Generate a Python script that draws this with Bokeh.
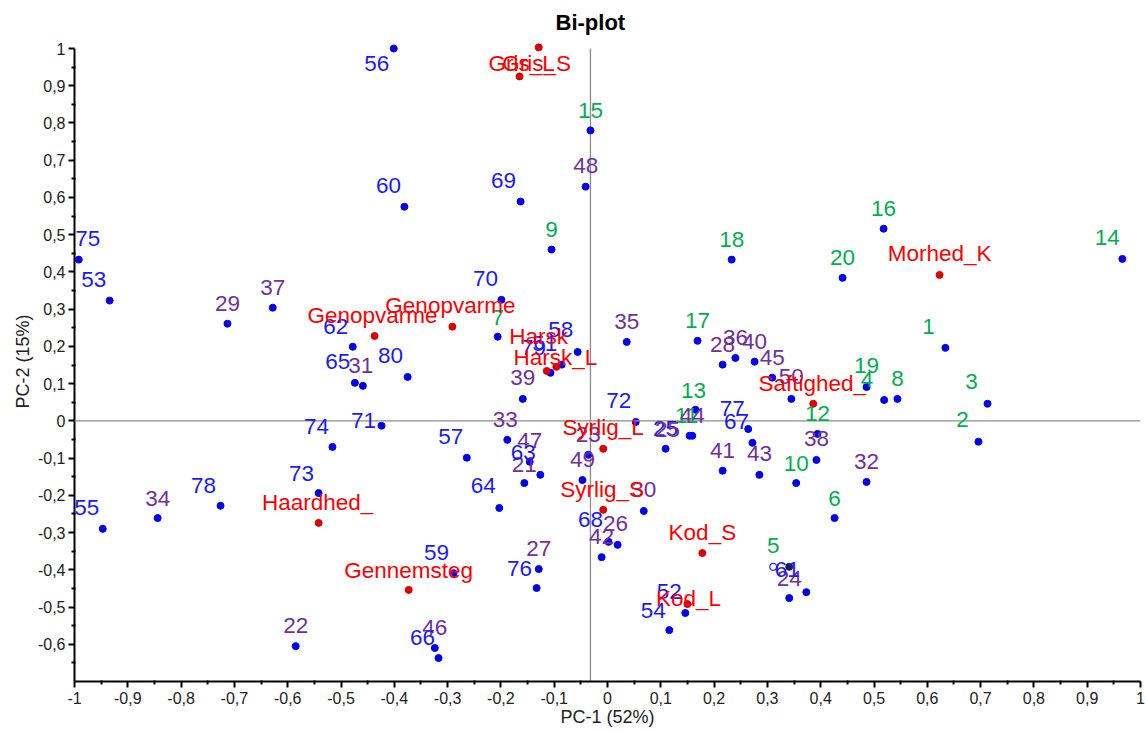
from bokeh.plotting import figure
from bokeh.models import (ColumnDataSource, LabelSet, Span, FixedTicker,
                          CustomJSTickFormatter, Range1d)
from bokeh.core.properties import value
from bokeh.embed import file_html
from bokeh.resources import INLINE

# ---------------- data ----------------
sample_ids = [str(i) for i in range(1, 81)]
pc1_samples = [
    0.634, 0.696, 0.713, 0.519, 0.341, 0.426, -0.206, 0.544, -0.105, 0.354,
    0.154, 0.394, 0.165, 0.966, -0.032, 0.518, 0.169, 0.233, 0.486, 0.441,
    -0.156, -0.585, -0.036, 0.341, 0.109, 0.019, -0.129, 0.216, -0.713, 0.068,
    -0.459, 0.486, -0.188, -0.844, 0.036, 0.240, -0.628, 0.392, -0.159, 0.276,
    0.216, -0.011, 0.285, 0.159, 0.309, -0.324, -0.146, -0.041, -0.047, 0.345,
    -0.086, 0.146, -0.934, 0.116, -0.947, -0.401, -0.264, -0.056, -0.289, -0.381,
    0.373, -0.478, -0.126, -0.203, -0.474, -0.317, 0.272, 0.002, -0.163, -0.199,
    -0.424, 0.053, -0.542, -0.516, -0.992, -0.133, 0.264, -0.726, -0.107, -0.375,
]
pc2_samples = [
    0.196, -0.056, 0.046, 0.056, -0.392, -0.261, 0.226, 0.059, 0.460, -0.167,
    -0.040, -0.035, 0.030, 0.435, 0.780, 0.516, 0.215, 0.433, 0.091, 0.384,
    -0.167, -0.605, -0.091, -0.476, -0.075, -0.333, -0.398, 0.151, 0.261, -0.242,
    0.094, -0.164, -0.051, -0.261, 0.212, 0.169, 0.304, -0.105, 0.059, 0.159,
    -0.134, -0.366, -0.145, -0.040, 0.116, -0.610, -0.110, 0.629, -0.159, 0.059,
    0.151, -0.516, 0.323, -0.562, -0.290, 1.000, -0.099, 0.185, -0.409, 0.575,
    -0.460, 0.199, -0.145, -0.234, 0.102, -0.637, -0.059, -0.325, 0.589, 0.325,
    -0.013, -0.003, -0.194, -0.070, 0.433, -0.449, -0.022, -0.228, 0.129, 0.118,
]
sample_groups = ["g1"] * 20 + ["g2"] * 30 + ["g3"] * 30

variable_names = ["Gris_S", "Gris_L", "Harsk", "Harsk_L", "Haardhed_", "Gennemsteg",
                  "Genopvarme", "Genopvarme", "Morhed_K", "Saftighed_", "Syrlig_L",
                  "Syrlig_S", "Kod_S", "Kod_L"]
pc1_variables = [-0.129, -0.165, -0.114, -0.096, -0.542, -0.373, -0.437, -0.291,
                 0.623, 0.386, -0.008, -0.008, 0.178, 0.150]
pc2_variables = [1.003, 0.925, 0.134, 0.145, -0.274, -0.454, 0.228, 0.253,
                 0.392, 0.046, -0.075, -0.239, -0.355, -0.492]

# a second, overlapping label drawn at sample 25
duplicate_label_text = ["25"]
duplicate_label_of = [25]

# hollow marker next to sample 5
marked_pc1 = [0.311]
marked_pc2 = [-0.392]

centre_pc1 = -0.032      # vertical reference line
x_tick_values = [i / 10 for i in range(-10, 11)]
y_tick_values = [i / 10 for i in range(-6, 11)]

title_text = "Bi-plot"
x_label = "PC-1 (52%)"
y_label = "PC-2 (15%)"

# ---------------- styles ----------------
group_colors = {"g1": "#00b050", "g2": "#7030a0", "g3": "#1a1aff"}
dot_colors = {"5": "#1a1a40"}
# label offsets in screen pixels (dx right, dy down)
sample_offsets = {
    "1": (-17, -21), "2": (-16, -22), "3": (-16, -22), "4": (-17, -21), "5": (-16, -21),
    "6": (0, -20), "7": (0, -19), "8": (0, -20), "9": (0, -20), "10": (0, -20),
    "11": (-3, -20), "12": (0, -20), "13": (-2, -19), "14": (-15, -21), "15": (0, -20),
    "16": (0, -20), "17": (0, -20), "18": (0, -20), "19": (0, -21), "20": (0, -20),
    "21": (0, -19), "22": (0, -21), "23": (0, -20), "24": (0, -20), "25": (2, -19),
    "26": (-2, -21), "27": (0, -21), "28": (0, -20), "29": (0, -20), "30": (0, -21),
    "31": (-2, -20), "32": (0, -20), "33": (-2, -20), "34": (0, -20), "35": (0, -20),
    "36": (0, -20), "37": (0, -20), "38": (0, -21), "39": (0, -21), "40": (0, -20),
    "41": (0, -20), "42": (0, -21), "43": (0, -21), "44": (0, -20), "45": (0, -20),
    "46": (0, -20), "47": (0, -21), "48": (0, -21), "49": (0, -21), "50": (0, -22),
    "51": (-17, -21), "52": (-16, -21), "53": (-16, -21), "54": (-16, -20), "55": (-16, -21),
    "56": (-17, 15), "57": (-16, -21), "58": (-17, -22), "59": (-17, -21), "60": (-16, -21),
    "61": (-19, -23), "62": (-17, -20), "63": (-17, -22), "64": (-16, -22), "65": (-17, -21),
    "66": (-16, -21), "67": (-16, -21), "68": (-18, -22), "69": (-17, -21), "70": (-16, -21),
    "71": (-18, -5), "72": (-17, -21), "73": (-17, -20), "74": (-16, -20), "75": (9, -21),
    "76": (-17, -20), "77": (-16, -21), "78": (-17, -20), "79": (-17, -25), "80": (-17, -21),
}
duplicate_offsets = [(0, -20)]
variable_offsets = [(-2, 16), (2, -13), (-8, -34), (-1, -9), (-1, -20), (0, -19),
                    (-2, -20), (-2, -21), (0, -21), (-1, -20), (0, -21), (-1, -20),
                    (0, -21), (1, -6)]

FONT = "Liberation Sans"
LABEL_SIZE = "22.5px"

p = figure(width=1145, height=731, output_backend="svg", toolbar_location=None,
           title=title_text,
           x_range=Range1d(-1.0, 1.0), y_range=Range1d(-0.7, 1.0188),
           min_border_left=74, min_border_right=5, min_border_top=41, min_border_bottom=50)
p.outline_line_color = None
p.xgrid.visible = False
p.ygrid.visible = False
p.background_fill_color = "white"
p.border_fill_color = "white"

p.title.align = "left"
p.title.offset = 481
p.title.standoff = 13
p.title.text_font = FONT
p.title.text_font_size = "22px"
p.title.text_font_style = "bold"
p.title.text_color = "black"

fmt = CustomJSTickFormatter(code="const v = Math.round(tick*10)/10; return String(v).replace('.', ',');")
x_minor = [(x_tick_values[i] + x_tick_values[i + 1]) / 2 for i in range(len(x_tick_values) - 1)]
y_minor = [(y_tick_values[i] + y_tick_values[i + 1]) / 2 for i in range(len(y_tick_values) - 1)]
y_minor = [y_tick_values[0] - 0.05] + y_minor
p.xaxis.ticker = FixedTicker(ticks=x_tick_values, minor_ticks=x_minor)
p.yaxis.ticker = FixedTicker(ticks=y_tick_values, minor_ticks=y_minor)
p.yaxis.bounds = (-0.7, 1.0)
for ax in (p.xaxis[0], p.yaxis[0]):
    ax.formatter = fmt
    ax.axis_line_width = 2
    ax.axis_line_color = "black"
    ax.major_tick_line_color = "black"
    ax.minor_tick_line_color = "black"
    ax.major_tick_line_width = 2
    ax.minor_tick_line_width = 2
    ax.major_tick_in = 0
    ax.major_tick_out = 6
    ax.minor_tick_in = 1
    ax.minor_tick_out = 3
    ax.major_label_text_font = FONT
    ax.major_label_text_font_size = "16px"
    ax.major_label_text_color = "#222222"
    ax.axis_label_text_font = FONT
    ax.axis_label_text_font_size = "18px"
    ax.axis_label_text_font_style = "normal"
    ax.axis_label_text_color = "#222222"
p.xaxis.major_label_standoff = 4
p.yaxis.major_label_standoff = 3
p.xaxis.axis_label = x_label
p.yaxis.axis_label = y_label
p.xaxis.axis_label_standoff = 0
p.yaxis.axis_label_standoff = 2

# reference lines
p.add_layout(Span(location=0, dimension="width", line_color="#8c8c8c", line_width=1.3))
p.segment(x0=[centre_pc1], y0=[-0.7], x1=[centre_pc1], y1=[1.0], line_color="#8c8c8c", line_width=1.3)

# sample dots
samples = ColumnDataSource(dict(
    x=pc1_samples, y=pc2_samples, text=sample_ids,
    color=[group_colors[g] for g in sample_groups],
    dot=[dot_colors.get(s, "#0000ee") for s in sample_ids],
    xo=[sample_offsets[s][0] for s in sample_ids],
    yo=[-sample_offsets[s][1] for s in sample_ids],
))
p.scatter("x", "y", source=samples, size=7, fill_color="dot", line_color="dot")
p.scatter(marked_pc1, marked_pc2, size=7, fill_color=None, line_color="#2a2aff", line_width=1.2)

variables = ColumnDataSource(dict(
    x=pc1_variables, y=pc2_variables, text=variable_names,
    xo=[o[0] for o in variable_offsets], yo=[-o[1] for o in variable_offsets],
))
p.scatter("x", "y", source=variables, size=7, fill_color="#e00000", line_color="#e00000")

dup_idx = [i - 1 for i in duplicate_label_of]
dups = ColumnDataSource(dict(
    x=[pc1_samples[i] for i in dup_idx], y=[pc2_samples[i] for i in dup_idx],
    text=duplicate_label_text,
    xo=[o[0] for o in duplicate_offsets], yo=[-o[1] for o in duplicate_offsets],
))

common = dict(x="x", y="y", text="text", x_offset="xo", y_offset="yo",
              text_align="center", text_baseline="middle",
              text_font=value(FONT), text_font_size=value(LABEL_SIZE))
p.add_layout(LabelSet(source=dups, text_color="#1a1aff", **common))
p.add_layout(LabelSet(source=samples, text_color="color", **common))
p.add_layout(LabelSet(source=variables, text_color="#ff0000", **common))

open("out.html", "w").write(file_html(p, INLINE))
